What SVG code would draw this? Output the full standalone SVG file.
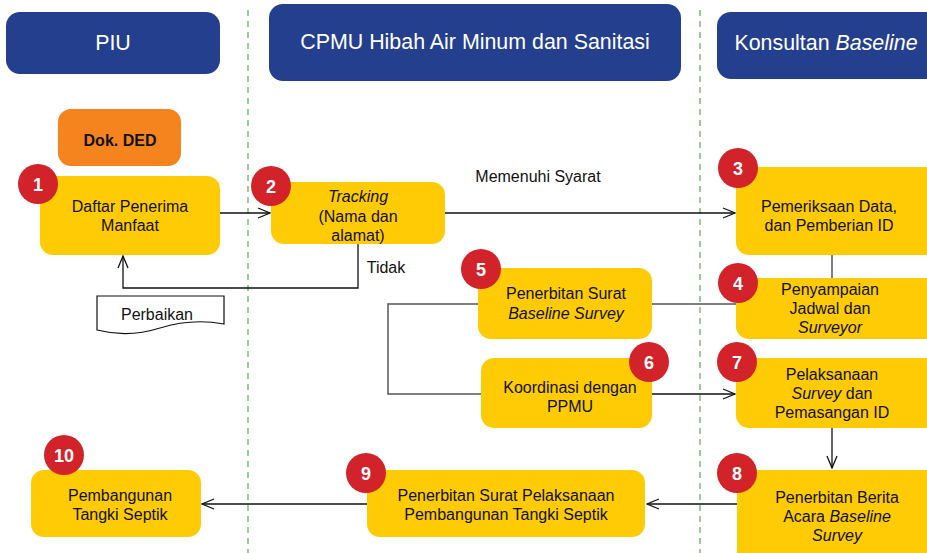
<svg xmlns="http://www.w3.org/2000/svg" width="927" height="553" viewBox="0 0 927 553">
<defs>
<style>
.hdr{fill:#253F8F}
.hdrt{font-family:"Liberation Sans",Arial,sans-serif;font-size:21.4px;fill:#fff;text-anchor:middle}
.box{fill:#FFCB05}
.t{font-family:"Liberation Sans",Arial,sans-serif;font-size:16px;fill:#111;text-anchor:middle}
.badge{fill:#D2232A}
.bt{font-family:"Liberation Sans",Arial,sans-serif;font-size:18px;font-weight:bold;fill:#fff;text-anchor:middle}
.lane{stroke:#5CB85C;stroke-width:1.3;stroke-dasharray:6 5;fill:none}
.c{stroke:#111;stroke-width:1.3;fill:none}
.g{stroke:#555;stroke-width:1.5;fill:none}
</style>
<marker id="ah" viewBox="0 0 14 12" refX="13" refY="6" markerWidth="14" markerHeight="12" markerUnits="userSpaceOnUse" orient="auto">
<path d="M1,1 L13,6 L1,11" fill="none" stroke="#111" stroke-width="1.3"/>
</marker>
</defs>
<rect width="927" height="553" fill="#fff"/>
<g id="lanes">
<line class="lane" x1="248" y1="10" x2="248" y2="553"/>
<line class="lane" x1="700" y1="10" x2="700" y2="553"/>
</g>
<g id="hdr-piu"><rect class="hdr" x="6" y="12" width="214" height="62" rx="14"/><text class="hdrt" x="113" y="50">PIU</text></g>
<g id="hdr-cpmu"><rect class="hdr" x="269" y="4" width="412" height="77" rx="14"/><text class="hdrt" x="475" y="49">CPMU Hibah Air Minum dan Sanitasi</text></g>
<g id="hdr-kons"><rect class="hdr" x="717" y="12" width="230" height="67" rx="14"/><text class="hdrt" x="826" y="50">Konsultan <tspan font-style="italic">Baseline</tspan></text></g>

<g id="connectors">
<line class="c" x1="220" y1="213" x2="270" y2="213" marker-end="url(#ah)"/>
<line class="c" x1="445" y1="213" x2="735" y2="213" marker-end="url(#ah)"/>
<polyline class="c" points="358,244 358,288 123,288 123,256" marker-end="url(#ah)"/>
<line class="g" x1="832" y1="255" x2="832" y2="278"/>
<line class="g" x1="652" y1="304" x2="736" y2="304"/>
<polyline class="g" points="478,304 388,304 388,394 481,394"/>
<line class="c" x1="652" y1="394" x2="735" y2="394" marker-end="url(#ah)"/>
<line class="c" x1="832" y1="428" x2="832" y2="468" marker-end="url(#ah)"/>
<line class="c" x1="737" y1="504" x2="647" y2="504" stroke-width="1.6" marker-end="url(#ah)"/>
<line class="c" x1="367" y1="504" x2="202" y2="504" stroke-width="1.6" marker-end="url(#ah)"/>
<text class="t" x="538" y="182">Memenuhi Syarat</text>
<text class="t" x="386" y="273">Tidak</text>
</g>

<g id="dok-ded"><rect x="58" y="109" width="123" height="57" rx="13" fill="#F5841F"/><text class="t" x="120" y="146" font-weight="bold">Dok. DED</text></g>
<g id="perbaikan"><path d="M97,296 H224 V324 Q192,318 160,328 Q128,338 97,330 Z" fill="#fff" stroke="#111" stroke-width="1.2"/><text class="t" x="157" y="320">Perbaikan</text></g>

<g id="n1"><rect class="box" x="40" y="176" width="180" height="79" rx="13"/><text class="t" x="130" y="212">Daftar Penerima</text><text class="t" x="130" y="231">Manfaat</text><circle class="badge" cx="38" cy="184" r="20"/><text class="bt" x="38" y="191">1</text></g>
<g id="n2"><rect class="box" x="271" y="182" width="174" height="62" rx="13"/><text class="t" x="358" y="202" font-style="italic">Tracking</text><text class="t" x="358" y="222">(Nama dan</text><text class="t" x="358" y="241">alamat)</text><circle class="badge" cx="271" cy="186" r="20"/><text class="bt" x="271" y="193">2</text></g>
<g id="n3"><rect class="box" x="736" y="167" width="210" height="88" rx="13"/><text class="t" x="829" y="212">Pemeriksaan Data,</text><text class="t" x="829" y="231">dan Pemberian ID</text><circle class="badge" cx="738" cy="168" r="20"/><text class="bt" x="738" y="175">3</text></g>
<g id="n4"><rect class="box" x="736" y="278" width="210" height="61" rx="13"/><text class="t" x="830" y="295">Penyampaian</text><text class="t" x="830" y="314">Jadwal dan</text><text class="t" x="830" y="333" font-style="italic">Surveyor</text><circle class="badge" cx="738" cy="283" r="20"/><text class="bt" x="738" y="290">4</text></g>
<g id="n5"><rect class="box" x="478" y="268" width="174" height="71" rx="13"/><text class="t" x="566" y="299">Penerbitan Surat</text><text class="t" x="566" y="319" font-style="italic">Baseline Survey</text><circle class="badge" cx="481" cy="269" r="20"/><text class="bt" x="481" y="276">5</text></g>
<g id="n6"><rect class="box" x="481" y="358" width="171" height="70" rx="13"/><text class="t" x="570" y="393">Koordinasi dengan</text><text class="t" x="570" y="412">PPMU</text><circle class="badge" cx="649" cy="362" r="20"/><text class="bt" x="649" y="369">6</text></g>
<g id="n7"><rect class="box" x="736" y="358" width="210" height="70" rx="13"/><text class="t" x="832" y="380">Pelaksanaan</text><text class="t" x="832" y="399"><tspan font-style="italic">Survey</tspan> dan</text><text class="t" x="832" y="418">Pemasangan ID</text><circle class="badge" cx="737" cy="362" r="20"/><text class="bt" x="737" y="369">7</text></g>
<g id="n8"><rect class="box" x="737" y="470" width="210" height="100" rx="13"/><text class="t" x="837" y="503">Penerbitan Berita</text><text class="t" x="837" y="522">Acara <tspan font-style="italic">Baseline</tspan></text><text class="t" x="837" y="541" font-style="italic">Survey</text><circle class="badge" cx="737" cy="473" r="20"/><text class="bt" x="737" y="480">8</text></g>
<g id="n9"><rect class="box" x="367" y="470" width="278" height="67" rx="13"/><text class="t" x="506" y="501">Penerbitan Surat Pelaksanaan</text><text class="t" x="506" y="520">Pembangunan Tangki Septik</text><circle class="badge" cx="366" cy="473" r="20"/><text class="bt" x="366" y="480">9</text></g>
<g id="n10"><rect class="box" x="31" y="470" width="170" height="67" rx="13"/><text class="t" x="120" y="501">Pembangunan</text><text class="t" x="120" y="520">Tangki Septik</text><circle class="badge" cx="64" cy="455" r="20"/><text class="bt" x="64" y="462">10</text></g>
</svg>
